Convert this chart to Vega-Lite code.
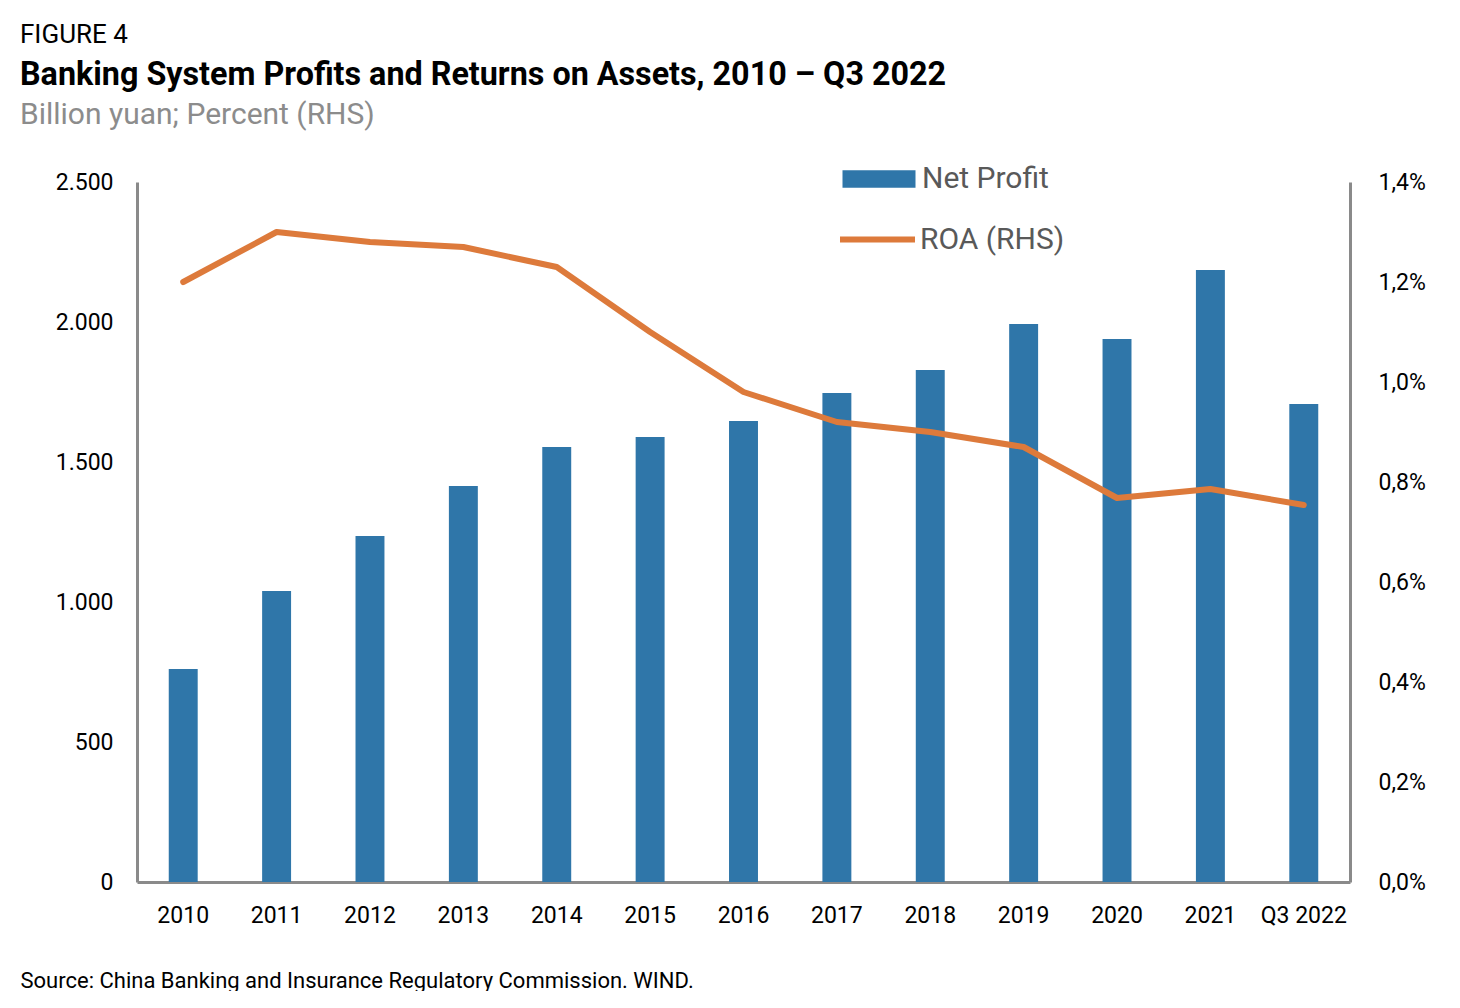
{
  "$schema": "https://vega.github.io/schema/vega-lite/v6.json",
  "autosize": {"type": "pad"},
  "padding": {"left": 20, "top": 21, "right": 0, "bottom": 0},
  "background": "white",
  "config": {
    "font": "Roboto",
    "view": {"stroke": null},
    "concat": {"spacing": 0}
  },
  "title": {
    "text": "FIGURE 4",
    "anchor": "start",
    "frame": "bounds",
    "fontSize": 26,
    "fontWeight": "normal",
    "color": "#000000",
    "font": "Roboto",
    "offset": 11
  },
  "vconcat": [
    {
      "title": {
        "text": "Banking System Profits and Returns on Assets, 2010 – Q3 2022",
        "subtitle": "Billion yuan; Percent (RHS)",
        "anchor": "start",
        "frame": "bounds",
        "fontSize": 32.3,
        "fontWeight": "bold",
        "color": "#000000",
        "subtitleFontSize": 30,
        "subtitleColor": "#8C8C8C",
        "subtitlePadding": 9,
        "offset": 12
      },
      "width": 1213,
      "height": 700,
      "data": {
        "values": [
          {"period": "2010", "profit": 761, "roa": 0.0120},
          {"period": "2011", "profit": 1039, "roa": 0.0130},
          {"period": "2012", "profit": 1236, "roa": 0.0128},
          {"period": "2013", "profit": 1414, "roa": 0.0127},
          {"period": "2014", "profit": 1554, "roa": 0.0123},
          {"period": "2015", "profit": 1589, "roa": 0.0110},
          {"period": "2016", "profit": 1646, "roa": 0.0098},
          {"period": "2017", "profit": 1746, "roa": 0.0092},
          {"period": "2018", "profit": 1829, "roa": 0.0090},
          {"period": "2019", "profit": 1993, "roa": 0.0087},
          {"period": "2020", "profit": 1939, "roa": 0.00768},
          {"period": "2021", "profit": 2186, "roa": 0.00786},
          {"period": "Q3 2022", "profit": 1707, "roa": 0.00754}
        ]
      },
      "encoding": {
        "x": {
          "field": "period",
          "type": "nominal",
          "sort": null,
          "scale": {"paddingInner": 0.69, "paddingOuter": 0.34},
          "axis": {
            "title": "Source: China Banking and Insurance Regulatory Commission. WIND.",
            "titleAnchor": "start",
            "titleX": -117,
            "titleY": 98,
            "titleFontSize": 22,
            "titleFontWeight": "normal",
            "titleColor": "#000000",
            "titleBaseline": "middle",
            "labelAngle": 0,
            "labelFontSize": 23,
            "labelColor": "#000000",
            "labelPadding": 22,
            "ticks": false,
            "domainColor": "#8A8A8A",
            "domainWidth": 3,
            "grid": false
          }
        }
      },
      "layer": [
        {
          "mark": {"type": "bar", "color": "#2F76A9"},
          "encoding": {
            "y": {
              "field": "profit",
              "type": "quantitative",
              "scale": {"domain": [0, 2500], "nice": false},
              "axis": {
                "title": null,
                "values": [0, 500, 1000, 1500, 2000, 2500],
                "labelExpr": "replace(format(datum.value, ','), ',', '.')",
                "labelFontSize": 23,
                "labelColor": "#000000",
                "labelPadding": 24,
                "ticks": false,
                "grid": false,
                "domainColor": "#8A8A8A",
                "domainWidth": 3
              }
            },
            "fill": {
              "datum": "Net Profit",
              "type": "nominal",
              "scale": {"range": ["#2F76A9"]},
              "legend": {
                "title": null,
                "orient": "none",
                "legendX": 705,
                "legendY": -40,
                "padding": 0,
                "symbolType": "M-1,-0.24H1V0.24H-1Z",
                "symbolSize": 5330,
                "symbolStrokeWidth": 0,
                "labelFontSize": 30,
                "labelColor": "#595959",
                "labelOffset": 6
              }
            }
          }
        },
        {
          "mark": {"type": "line", "strokeWidth": 6, "strokeCap": "round", "strokeJoin": "round"},
          "encoding": {
            "y": {
              "field": "roa",
              "type": "quantitative",
              "scale": {"domain": [0, 0.014], "nice": false},
              "axis": {
                "title": null,
                "orient": "right",
                "values": [0, 0.002, 0.004, 0.006, 0.008, 0.01, 0.012, 0.014],
                "labelExpr": "replace(format(datum.value, '.1%'), '.', ',')",
                "labelFontSize": 23,
                "labelColor": "#000000",
                "labelPadding": 28,
                "ticks": false,
                "grid": false,
                "domainColor": "#8A8A8A",
                "domainWidth": 3
              }
            },
            "stroke": {
              "datum": "ROA (RHS)",
              "type": "nominal",
              "scale": {"range": ["#DD7A3B"]},
              "legend": {
                "title": null,
                "orient": "none",
                "legendX": 700,
                "legendY": 17,
                "padding": 0,
                "symbolType": "stroke",
                "symbolSize": 5625,
                "symbolStrokeWidth": 6,
                "labelFontSize": 30,
                "labelColor": "#595959",
                "labelOffset": 2
              }
            }
          }
        }
      ],
      "resolve": {"scale": {"y": "independent", "fill": "independent", "stroke": "independent"}}
    }
  ]
}
